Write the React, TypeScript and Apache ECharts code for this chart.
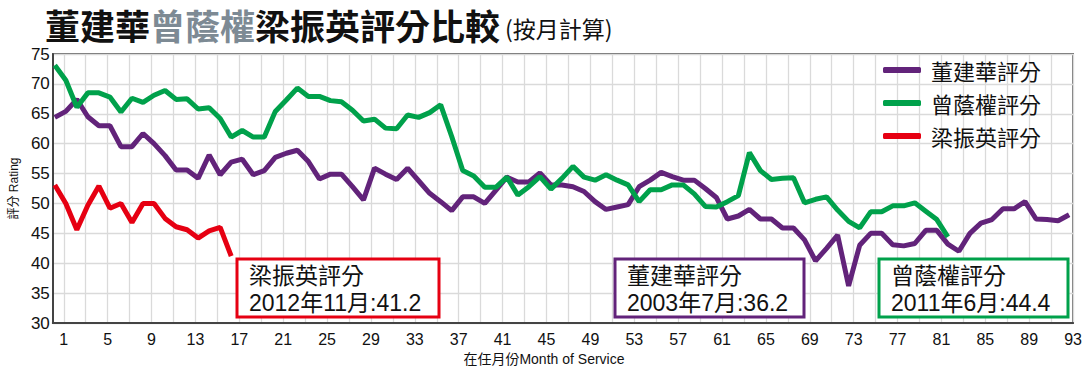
import React, { useEffect, useRef } from 'react';
import * as echarts from 'echarts';

// 董建華 monthly ratings (month 1..93)
const tungScores = [
  64.4, 65.4, 67.4, 64.5, 63.0, 63.0, 59.5, 59.5, 61.7, 60.0,
  58.0, 55.6, 55.6, 54.2, 58.1, 54.8, 56.9, 57.4, 54.8, 55.5,
  57.7, 58.4, 58.9, 57.0, 54.1, 54.9, 54.9, 52.8, 50.6, 55.9,
  54.9, 54.0, 55.9, 53.8, 51.7, 50.3, 48.8, 51.1, 51.1, 50.0,
  52.2, 54.4, 53.6, 53.6, 55.1, 53.1, 53.1, 52.8, 52.0, 50.3,
  49.0, 49.4, 49.8, 52.8, 53.9, 55.2, 54.5, 53.9, 53.9, 52.5,
  51.0, 47.4, 47.9, 49.0, 47.4, 47.4, 45.9, 45.9, 43.9, 40.4,
  42.5, 44.7, 36.2, 43.0, 45.0, 45.0, 43.1, 42.9, 43.3, 45.5,
  45.5, 43.2, 42.0, 45.0, 46.7, 47.3, 49.1, 49.1, 50.3, 47.4,
  47.3, 47.1, 48.1,
];

// 曾蔭權 monthly ratings (month 1..82)
const tsangScores = [
  73.1, 70.6, 66.1, 68.5, 68.5, 67.8, 65.3, 67.6, 66.9, 68.1,
  68.9, 67.4, 67.5, 65.8, 66.0, 64.2, 61.1, 62.2, 61.1, 61.1,
  65.4, 67.3, 69.3, 67.9, 67.9, 67.2, 67.0, 65.6, 63.8, 64.1,
  62.6, 62.5, 64.8, 64.4, 65.2, 66.5, 61.2, 55.5, 54.6, 52.7,
  52.7, 54.4, 51.4, 52.8, 54.5, 52.4, 54.2, 56.2, 54.4, 53.9,
  54.8, 53.9, 53.1, 50.3, 52.3, 52.3, 53.1, 53.1, 51.6, 49.5,
  49.4, 50.3, 51.3, 58.5, 55.5, 54.0, 54.2, 54.3, 50.1, 50.7,
  51.1, 48.9, 47.0, 45.9, 48.6, 48.6, 49.6, 49.6, 50.1, 48.7,
  47.3, 44.4,
];

// 梁振英 monthly ratings (month 1..17)
const leungScores = [
  53.1, 50.0, 45.6, 49.7, 52.9, 49.2, 50.0, 46.8, 50.0, 50.0,
  47.5, 46.1, 45.6, 44.2, 45.4, 46.0, 41.2,
];

const seriesNames = ['董建華評分', '曾蔭權評分', '梁振英評分'];
const seriesColors = ['#62237a', '#00a14b', '#e60012'];
const monthCount = 93;
const xTickMonths = [1, 5, 9, 13, 17, 21, 25, 29, 33, 37, 41, 45, 49, 53, 57, 61, 65, 69, 73, 77, 81, 85, 89, 93];
const yMin = 30;
const yMax = 75;
const yStep = 5;

const titleParts = ['董建華', '曾蔭權', '梁振英評分比較', '(按月計算)'];
const annotationTitles = ['梁振英評分', '董建華評分', '曾蔭權評分'];
const annotationDetails = ['2012年11月:41.2', '2003年7月:36.2', '2011年6月:44.4'];
const annotationColors = ['#e60012', '#62237a', '#00a14b'];

const LATIN = '"Liberation Sans", Arial, "Noto Sans CJK TC", sans-serif';
const CJK = '"Noto Sans CJK TC", "Liberation Sans", sans-serif';

export default function App() {
  const ref = useRef<HTMLDivElement>(null);

  useEffect(() => {
    if (!ref.current) return;
    const chart = echarts.init(ref.current, null, { renderer: 'svg' });

    const categories = ['', ...Array.from({ length: monthCount }, (_, i) => String(i + 1))];
    const toPairs = (arr: number[]) => arr.map((v, i) => [i + 1, v]);
    const allScores = [tungScores, tsangScores, leungScores];

    const boxLayout = [
      { left: 237, width: 202 },
      { left: 615, width: 189 },
      { left: 879, width: 189 },
    ];

    const graphics: any[] = annotationTitles.map((t, i) => ({
      type: 'group',
      z: 100,
      children: [
        {
          type: 'rect',
          shape: { x: boxLayout[i].left, y: 259, width: boxLayout[i].width, height: 58 },
          style: { fill: '#ffffff', stroke: annotationColors[i], lineWidth: 3 },
          z: 100,
        },
        {
          type: 'text',
          x: boxLayout[i].left + 12,
          y: 262,
          z: 101,
          style: {
            text: t + '\n' + annotationDetails[i],
            fontSize: 23,
            lineHeight: 27,
            fill: '#111111',
            fontFamily: LATIN,
          },
        },
      ],
    }));

    graphics.push({
      type: 'text',
      x: 45,
      y: 24,
      z: 100,
      style: {
        text: `{a|${titleParts[0]}}{b|${titleParts[1]}}{a|${titleParts[2]}}{c|${titleParts[3]}}`,
        verticalAlign: 'middle',
        rich: {
          a: { fontSize: 35, lineHeight: 40, fontWeight: 'bold', fill: '#111111', fontFamily: CJK },
          b: { fontSize: 35, lineHeight: 40, fontWeight: 'bold', fill: '#7d8a94', fontFamily: CJK },
          c: { fontSize: 23, lineHeight: 26, fontWeight: 'normal', fill: '#111111', fontFamily: CJK, padding: [8, 0, 0, 5] },
        },
      },
    });

    chart.setOption({
      animation: false,
      backgroundColor: '#ffffff',
      legend: {
        orient: 'vertical',
        left: 883,
        top: 59,
        padding: 0,
        itemGap: 11,
        itemWidth: 38,
        itemHeight: 6,
        icon: 'roundRect',
        data: seriesNames,
        textStyle: { fontSize: 22, color: '#111111', fontFamily: CJK, padding: [0, 0, 0, 5] },
      },
      grid: {
        left: 45,
        right: 6,
        top: 54,
        bottom: 51,
        show: true,
        borderColor: '#333333',
        borderWidth: 1.5,
        backgroundColor: 'transparent',
      },
      xAxis: [
        {
          type: 'category',
          data: categories,
          boundaryGap: false,
          name: '在任月份Month of Service',
          nameLocation: 'middle',
          nameGap: 28,
          nameTextStyle: { fontSize: 14, color: '#111111', fontFamily: LATIN, padding: [0, 38, 0, 0] },
          axisLine: { show: true, lineStyle: { color: '#444444', width: 2 } },
          axisTick: { show: false },
          axisLabel: {
            interval: (index: number, value: string) => index > 0 && xTickMonths.includes(Number(value)),
            fontSize: 16,
            color: '#111111',
            fontFamily: LATIN,
            margin: 8,
          },
          splitLine: {
            show: true,
            interval: (index: number) => index % 2 === 1,
            lineStyle: { color: '#dadada', width: 1.3 },
          },
        },
        {
          type: 'value',
          show: false,
          min: 0.82,
          max: 93.36,
          splitLine: { show: false },
        },
      ],
      yAxis: {
        type: 'value',
        min: yMin,
        max: yMax,
        interval: yStep,
        name: '評分 Rating',
        nameLocation: 'middle',
        nameGap: 27,
        nameTextStyle: { fontSize: 12, color: '#111111', fontFamily: LATIN },
        axisLine: { show: true, lineStyle: { color: '#444444', width: 2 } },
        axisTick: { show: false },
        axisLabel: { fontSize: 17, color: '#111111', fontFamily: LATIN, margin: 3 },
        splitLine: { show: true, lineStyle: { color: '#dadada', width: 1.3 } },
      },
      series: seriesNames.map((name, i) => ({
        name,
        type: 'line',
        xAxisIndex: 1,
        data: toPairs(allScores[i]),
        symbol: 'none',
        color: seriesColors[i],
        lineStyle: { width: 5, color: seriesColors[i] },
        z: 3,
      })),
      graphic: graphics,
    });

    return () => chart.dispose();
  }, []);

  return (
    <div
      ref={ref}
      style={{ position: 'absolute', left: 0, top: 0, width: 1085, height: 374, background: '#ffffff' }}
    />
  );
}
